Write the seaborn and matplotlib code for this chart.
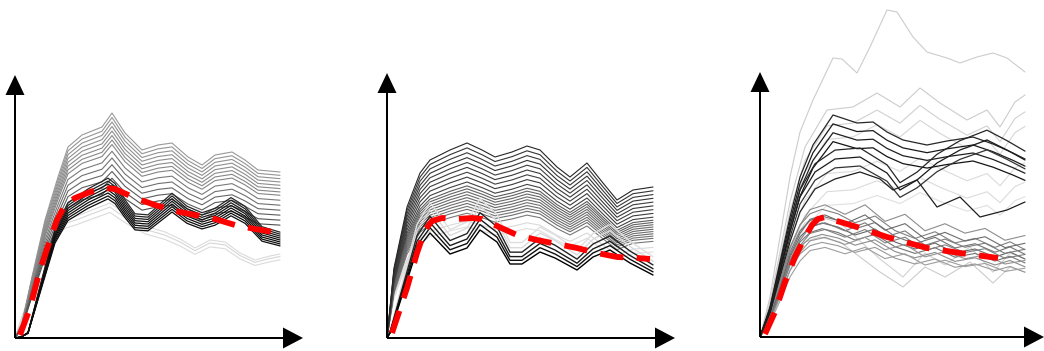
import matplotlib
matplotlib.use("Agg")
import matplotlib.pyplot as plt
import numpy as np
import pandas as pd
import seaborn as sns

sns.set_style("white")

# ---------------- Panel 1 ----------------
# upper (grey) responses
p1_up_t = [0, 7, 17, 30, 43, 53, 67, 87, 97, 110, 127, 143, 157, 173, 187, 200, 217, 230, 243, 265]
p1_up = [0, 15, 61, 118, 161, 191, 203, 211, 225, 205, 188, 193, 195, 181, 173, 183, 186, 178, 168, 166]
p1_up_gains = [0.68, 0.71, 0.74, 0.77, 0.80, 0.83,
               0.86, 0.88, 0.90, 0.92, 0.94, 0.96, 0.98, 1.0]
p1_up_grays = [0.30, 0.33, 0.36, 0.40, 0.44, 0.48,
               0.52, 0.53, 0.54, 0.55, 0.56, 0.57, 0.58, 0.60]
# lower (black) responses
p1_lo_t = [0, 6, 13, 27, 40, 53, 73, 93, 100, 110, 120, 133, 145, 157, 172, 187, 200, 216, 230, 247, 265]
p1_lo = [0, 1, 5, 55, 101, 125, 138, 148, 143, 128, 115, 114, 124, 134, 122, 116, 120, 130, 122, 103, 98]
p1_lo_gains = [0.94, 0.96, 0.98, 1.0, 1.02, 1.04, 1.06, 1.08]
p1_lo_grays = [0.05, 0.05, 0.05, 0.05, 0.08, 0.1, 0.12, 0.15]
# faint responses
p1_faint_t = [0, 10, 20, 30, 40, 50, 62, 77, 95, 110, 130, 150, 165, 180, 195, 210, 225, 240, 255, 265]
p1_faint = [0, 30, 65, 92, 108, 118, 122, 128, 135, 124, 112, 106, 99, 90, 98, 96, 85, 78, 82, 84]
p1_faint_gains = [0.93, 0.97, 1.0]
p1_faint_grays = [0.86, 0.84, 0.86]
p1_mean_t = [5, 15, 25, 35, 42, 50, 60, 75, 90, 100, 120, 140, 160, 180, 200, 220, 240, 258]
p1_mean = [3, 30, 68, 98, 118, 133, 140, 146, 150, 149, 140, 133, 127, 123, 119, 113, 109, 106]

# ---------------- Panel 2 ----------------
p2_up_t = [0, 3, 7, 20, 33, 43, 63, 80, 95, 108, 125, 140, 153, 170, 183, 200, 216, 230, 246, 266]
p2_up = [0, 30, 70, 131, 165, 178, 188, 195, 188, 181, 186, 192, 188, 171, 161, 175, 155, 138, 148, 151]
p2_up_gains = [1.0, 0.975, 0.95, 0.925, 0.9, 0.875, 0.85, 0.825, 0.8,
               0.78, 0.765, 0.75, 0.735, 0.72, 0.705, 0.69, 0.675, 0.66, 0.64, 0.60, 0.57]
p2_up_grays = [0.15, 0.2, 0.22, 0.2, 0.24, 0.22, 0.25, 0.23, 0.26,
               0.36, 0.38, 0.40, 0.42, 0.40, 0.44, 0.42, 0.45, 0.43, 0.47, 0.85, 0.87]
p2_lo_t = [0, 3, 16, 30, 43, 63, 80, 93, 110, 123, 135, 153, 168, 190, 206, 223, 243, 266]
p2_lo = [0, 5, 45, 88, 105, 84, 90, 108, 96, 74, 74, 86, 80, 68, 81, 88, 75, 63]
p2_lo_gains = [1.0, 1.05, 1.1, 1.16, 1.22, 1.29]
p2_lo_grays = [0.0, 0.06, 0.1, 0.14, 0.85, 0.87]
p2_mean_t = [5, 10, 20, 30, 38, 45, 55, 70, 85, 95, 110, 130, 150, 170, 190, 210, 230, 250, 263]
p2_mean = [5, 20, 50, 85, 108, 117, 120, 119, 120, 119, 112, 103, 98, 94, 90, 85, 81, 80, 79]

# ---------------- Panel 3 ----------------
p3_top_t = [0, 10, 20, 30, 40, 53, 73, 82, 97, 110, 127, 137, 153, 167, 187, 200, 217, 233, 247, 265]
p3_top = [0, 40, 100, 160, 205, 237, 279, 278, 264, 290, 327, 325, 300, 285, 279, 274, 280, 284, 279, 265]
p3_light_t = [0, 10, 20, 30, 45, 67, 93, 117, 140, 160, 180, 207, 227, 240, 255, 265]
p3_light = [0, 35, 85, 135, 190, 227, 230, 244, 230, 249, 234, 217, 227, 210, 235, 242]
p3_light_gains = [1.0, 0.93, 0.87, 0.72, 0.64, 0.58]
p3_light_grays = [0.8, 0.82, 0.84, 0.86, 0.86, 0.88]
p3_blk_a_t = [0, 10, 20, 30, 40, 53, 73, 97, 113, 127, 143, 167, 187, 213, 233, 253, 265]
p3_blk_a = [0, 30, 75, 120, 160, 192, 222, 214, 215, 205, 197, 192, 196, 200, 193, 184, 178]
p3_blk_a_gains = [1.0, 0.96, 0.92, 0.88]
p3_blk_a_grays = [0.15, 0.1, 0.12, 0.08]
p3_blk_b_t = [0, 10, 20, 30, 40, 55, 75, 100, 127, 140, 157, 177, 200, 227, 247, 265]
p3_blk_b = [0, 25, 65, 105, 140, 165, 178, 180, 164, 147, 157, 174, 187, 197, 187, 177]
p3_blk_b_gains = [1.0, 1.05, 0.95]
p3_blk_b_grays = [0.1, 0.15, 0.2]
p3_blk_c_t = [0, 10, 20, 30, 40, 55, 75, 100, 120, 133, 157, 177, 200, 220, 247, 265]
p3_blk_c = [0, 25, 60, 95, 125, 148, 158, 165, 158, 147, 157, 130, 140, 120, 127, 135]
p3_gray_a_t = [0, 10, 20, 30, 40, 50, 62, 78, 95, 115, 135, 155, 175, 195, 215, 235, 250, 265]
p3_gray_a = [0, 20, 50, 80, 100, 110, 114, 110, 102, 108, 95, 88, 94, 84, 88, 80, 85, 78]
p3_gray_a_gains = [1.12, 1.06, 1.0, 0.95, 0.9, 0.83]
p3_gray_a_grays = [0.5, 0.45, 0.4, 0.45, 0.55, 0.6]
p3_gray_b_t = [0, 10, 20, 30, 40, 50, 65, 85, 105, 125, 145, 165, 185, 205, 225, 245, 265]
p3_gray_b = [0, 18, 45, 75, 95, 108, 112, 104, 112, 98, 104, 90, 96, 88, 92, 82, 86]
p3_gray_b_gains = [1.18, 1.09, 1.02, 0.96, 0.89, 0.8]
p3_gray_b_grays = [0.55, 0.42, 0.48, 0.5, 0.58, 0.62]
p3_faint_t = [0, 10, 20, 30, 45, 60, 80, 100, 120, 143, 165, 185, 210, 233, 250, 265]
p3_faint = [0, 20, 50, 75, 95, 100, 95, 80, 65, 50, 70, 60, 75, 54, 70, 65]
p3_faint_gains = [1.0, 1.2]
p3_faint_grays = [0.8, 0.82]
p3_mean_t = [5, 15, 25, 35, 45, 52, 58, 65, 77, 97, 127, 167, 200, 238]
p3_mean = [3, 25, 55, 80, 100, 112, 118, 120, 116, 110, 100, 89, 84, 79]

W, H = 1044, 351
# axis origin (px from left, px from top), x-arrow tip, y-arrow tip
panels = [
    dict(x0=15, base=338, xtip=303, ytip=75),
    dict(x0=387, base=338, xtip=675, ytip=73),
    dict(x0=760, base=337, xtip=1044, ytip=72),
]


def family(t, profile, gains, grays, tag):
    frames = []
    palette = {}
    for i, (g, c) in enumerate(zip(gains, grays)):
        name = f"{tag}{i}"
        frames.append(pd.DataFrame({"t": t, "v": np.asarray(profile, float) * g, "line": name}))
        palette[name] = str(c)
    return pd.concat(frames, ignore_index=True), palette


def draw_family(ax, t, profile, gains, grays, tag, lw=0.8):
    df, pal = family(t, profile, gains, grays, tag)
    # lighter lines first so darker ones sit on top
    order = sorted(pal, key=lambda k: -float(pal[k]))
    sns.lineplot(data=df, x="t", y="v", hue="line", hue_order=order, palette=pal,
                 estimator=None, sort=False, legend=False, lw=lw, ax=ax)


def draw_mean(ax, t, v):
    sns.lineplot(x=t, y=v, color="#ff0000", lw=4.2, linestyle=(0, (4, 2.3)),
                 estimator=None, sort=False, legend=False, ax=ax)


fig = plt.figure(figsize=(W / 100, H / 100), dpi=100)
axes = []
for p in panels:
    ax = fig.add_axes([p["x0"] / W, (H - p["base"]) / H,
                       (p["xtip"] - p["x0"]) / W, p["base"] / H])
    ax.set_xlim(0, p["xtip"] - p["x0"])
    ax.set_ylim(0, p["base"])
    ax.set_axis_off()
    axes.append(ax)

ax1, ax2, ax3 = axes

draw_family(ax1, p1_faint_t, p1_faint, p1_faint_gains, p1_faint_grays, "a")
draw_family(ax1, p1_up_t, p1_up, p1_up_gains, p1_up_grays, "b")
draw_family(ax1, p1_lo_t, p1_lo, p1_lo_gains, p1_lo_grays, "c", lw=0.9)
draw_mean(ax1, p1_mean_t, p1_mean)

draw_family(ax2, p2_up_t, p2_up, p2_up_gains, p2_up_grays, "a")
draw_family(ax2, p2_lo_t, p2_lo, p2_lo_gains, p2_lo_grays, "b", lw=1.0)
draw_mean(ax2, p2_mean_t, p2_mean)

draw_family(ax3, p3_top_t, p3_top, [1.0], [0.8], "a")
draw_family(ax3, p3_light_t, p3_light, p3_light_gains, p3_light_grays, "b")
draw_family(ax3, p3_faint_t, p3_faint, p3_faint_gains, p3_faint_grays, "c")
draw_family(ax3, p3_gray_a_t, p3_gray_a, p3_gray_a_gains, p3_gray_a_grays, "d")
draw_family(ax3, p3_gray_b_t, p3_gray_b, p3_gray_b_gains, p3_gray_b_grays, "e")
draw_family(ax3, p3_blk_a_t, p3_blk_a, p3_blk_a_gains, p3_blk_a_grays, "f", lw=0.9)
draw_family(ax3, p3_blk_b_t, p3_blk_b, p3_blk_b_gains, p3_blk_b_grays, "g", lw=0.9)
draw_family(ax3, p3_blk_c_t, p3_blk_c, [1.0], [0.12], "h", lw=0.9)
draw_mean(ax3, p3_mean_t, p3_mean)

# arrowed axes
for ax, p in zip(axes, panels):
    xlen = p["xtip"] - p["x0"]
    ylen = p["base"] - p["ytip"]
    ax.arrow(0, 0, xlen, 0, width=2, head_width=21, head_length=20,
             length_includes_head=True, fc="black", ec="none", clip_on=False, zorder=5)
    ax.arrow(0, 0, 0, ylen, width=2, head_width=19, head_length=20,
             length_includes_head=True, fc="black", ec="none", clip_on=False, zorder=5)

fig.savefig("out.png", dpi=100)
